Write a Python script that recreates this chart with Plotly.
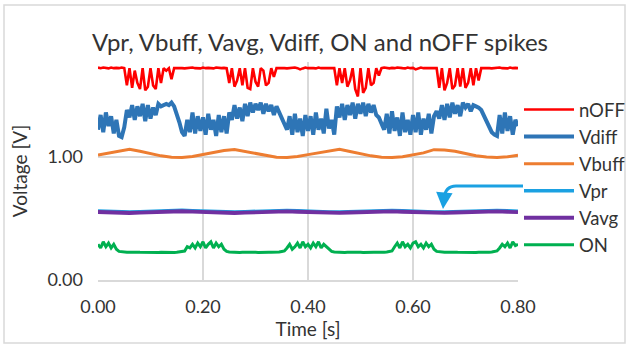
import plotly.graph_objects as go

# ---------------- data ----------------
DT_FAST = 0.005   # sampling step of the spiky traces (s)
DT_SLOW = 0.02    # sampling step of the smooth traces (s)

noff = [
    1.725, 1.72, 1.725, 1.72, 1.718, 1.725, 1.72, 1.722, 1.72, 1.725, 1.72,
    1.58, 1.72, 1.56, 1.70, 1.60, 1.55, 1.72, 1.54, 1.57, 1.72, 1.58, 1.55, 1.72, 1.60, 1.72, 1.70, 1.72, 1.63, 1.72,
    1.72, 1.725, 1.72, 1.718, 1.722, 1.72, 1.725, 1.72, 1.72, 1.718, 1.725, 1.72, 1.722, 1.72, 1.718, 1.725, 1.72, 1.72, 1.722, 1.72,
    1.60, 1.72, 1.57, 1.62, 1.72, 1.58, 1.72, 1.56, 1.55, 1.72, 1.61, 1.57, 1.72, 1.70, 1.58, 1.60, 1.72, 1.65, 1.72,
    1.72, 1.725, 1.72, 1.718, 1.722, 1.72, 1.725, 1.72, 1.71, 1.718, 1.725, 1.72, 1.722, 1.72, 1.718, 1.725, 1.72, 1.72, 1.722, 1.72, 1.725, 1.72,
    1.58, 1.72, 1.60, 1.72, 1.57, 1.62, 1.72, 1.55, 1.49, 1.72, 1.52, 1.56, 1.72, 1.58, 1.60, 1.72, 1.66,
    1.72, 1.725, 1.72, 1.718, 1.722, 1.72, 1.725, 1.72, 1.72, 1.718, 1.725, 1.72, 1.722, 1.71, 1.718, 1.725, 1.72, 1.72, 1.722, 1.72, 1.725, 1.72,
    1.56, 1.72, 1.54, 1.60, 1.72, 1.55, 1.58, 1.72, 1.57, 1.72, 1.56, 1.60, 1.72, 1.58, 1.72, 1.62, 1.72,
    1.72, 1.725, 1.72, 1.718, 1.722, 1.72, 1.725, 1.72, 1.72, 1.718, 1.725, 1.72, 1.722, 1.72,
]

vdiff = [
    1.22, 1.34, 1.20, 1.36, 1.25, 1.33, 1.19, 1.30, 1.17, 1.16,
    1.24, 1.38, 1.32, 1.42, 1.30, 1.41, 1.33, 1.43, 1.29, 1.42,
    1.31, 1.40, 1.34, 1.43, 1.41, 1.42, 1.43, 1.42, 1.44, 1.41,
    1.35, 1.28, 1.20, 1.17, 1.30, 1.20, 1.36, 1.19, 1.33, 1.21,
    1.32, 1.18, 1.35, 1.22, 1.30, 1.17, 1.34, 1.20, 1.33, 1.19,
    1.36, 1.30, 1.42, 1.31, 1.40, 1.29, 1.43, 1.33, 1.44, 1.36,
    1.43, 1.38, 1.44, 1.35, 1.43, 1.37, 1.42, 1.34, 1.41, 1.36,
    1.30, 1.25, 1.22, 1.33, 1.18, 1.35, 1.20, 1.31, 1.17, 1.34,
    1.21, 1.33, 1.18, 1.36, 1.22, 1.31, 1.19, 1.39, 1.23, 1.30,
    1.18, 1.41, 1.32, 1.43, 1.30, 1.42, 1.34, 1.44, 1.31, 1.43,
    1.35, 1.44, 1.33, 1.43, 1.36, 1.42, 1.34, 1.32, 1.27, 1.22,
    1.35, 1.19, 1.37, 1.21, 1.32, 1.17, 1.36, 1.20, 1.30, 1.18,
    1.34, 1.20, 1.36, 1.18, 1.31, 1.22, 1.35, 1.19, 1.33, 1.37,
    1.31, 1.42, 1.30, 1.43, 1.32, 1.44, 1.35, 1.42, 1.33, 1.44,
    1.40, 1.43, 1.37, 1.42, 1.41, 1.40, 1.38, 1.33, 1.28, 1.24,
    1.20, 1.18, 1.17, 1.34, 1.19, 1.36, 1.21, 1.33, 1.18, 1.30,
    1.25,
]

on = [
    0.29, 0.26, 0.31, 0.27, 0.30, 0.26, 0.29, 0.25,
    0.232, 0.228, 0.226, 0.225, 0.226, 0.224, 0.225, 0.226, 0.225, 0.224, 0.226, 0.225, 0.224, 0.226,
    0.225, 0.224, 0.226, 0.225, 0.224, 0.226, 0.225, 0.224, 0.226, 0.228, 0.232, 0.235,
    0.27, 0.26, 0.29, 0.26, 0.30, 0.27, 0.31, 0.26, 0.29, 0.31, 0.26, 0.30, 0.27, 0.29, 0.25,
    0.232, 0.228, 0.226, 0.225, 0.226, 0.224, 0.225, 0.226, 0.225, 0.224, 0.226, 0.225, 0.224,
    0.226, 0.225, 0.224, 0.226, 0.225, 0.224, 0.226, 0.228, 0.232, 0.236,
    0.26, 0.29, 0.25, 0.27, 0.30, 0.26, 0.31, 0.27, 0.29, 0.26, 0.30, 0.27, 0.31, 0.26, 0.29, 0.27, 0.25,
    0.232, 0.228, 0.226, 0.225, 0.226, 0.224, 0.225, 0.226, 0.225, 0.224, 0.226, 0.225, 0.224,
    0.226, 0.225, 0.224, 0.226, 0.225, 0.224, 0.226, 0.225, 0.228, 0.232, 0.236,
    0.27, 0.30, 0.26, 0.31, 0.27, 0.29, 0.26, 0.30, 0.31, 0.27, 0.29, 0.26, 0.30, 0.27, 0.29, 0.25,
    0.232, 0.228, 0.226, 0.225, 0.226, 0.224, 0.225, 0.226, 0.225, 0.224, 0.226, 0.225, 0.224,
    0.226, 0.225, 0.224, 0.226, 0.225, 0.224, 0.226, 0.225, 0.228, 0.232, 0.236,
    0.26, 0.29, 0.27, 0.30, 0.26, 0.31, 0.28, 0.29,
]

vbuff = [
    1.015, 1.030, 1.050, 1.062, 1.045, 1.025, 1.008, 0.997, 0.995, 1.002,
    1.020, 1.035, 1.052, 1.060, 1.043, 1.024, 1.007, 0.996, 0.995, 1.003,
    1.018, 1.033, 1.050, 1.061, 1.044, 1.025, 1.008, 0.997, 0.994, 1.000,
    1.016, 1.032, 1.058, 1.055, 1.045, 1.026, 1.009, 0.998, 0.995, 1.000,
    1.012,
]

vavg = [
    0.552, 0.548, 0.545, 0.544, 0.547, 0.551, 0.555, 0.558, 0.558, 0.555,
    0.551, 0.547, 0.544, 0.544, 0.547, 0.551, 0.555, 0.558, 0.557, 0.554,
    0.550, 0.546, 0.544, 0.545, 0.548, 0.552, 0.556, 0.558, 0.557, 0.554,
    0.550, 0.546, 0.544, 0.545, 0.548, 0.552, 0.556, 0.558, 0.557, 0.554,
    0.551,
]

vpr = [
    0.560, 0.556, 0.553, 0.552, 0.555, 0.559, 0.563, 0.566, 0.566, 0.563,
    0.559, 0.555, 0.552, 0.552, 0.555, 0.559, 0.563, 0.566, 0.565, 0.562,
    0.558, 0.554, 0.552, 0.553, 0.556, 0.560, 0.564, 0.566, 0.565, 0.562,
    0.558, 0.554, 0.552, 0.553, 0.556, 0.560, 0.564, 0.566, 0.565, 0.562,
    0.559,
]

x_ticks = [0.0, 0.2, 0.4, 0.6, 0.8]
x_tick_labels = ["0.00", "0.20", "0.40", "0.60", "0.80"]
y_ticks = [0.0, 1.0]
y_tick_labels = ["0.00", "1.00"]

t_fast = [round(i * DT_FAST, 4) for i in range(len(noff))]
t_slow = [round(i * DT_SLOW, 4) for i in range(len(vbuff))]

FONT = "Lato"
TXT = "#333333"

fig = go.Figure()
series = [
    ("nOFF", t_fast, noff, "#FF0000", 2.6),
    ("Vdiff", t_fast, vdiff, "#2E75B6", 4.0),
    ("Vbuff", t_slow, vbuff, "#ED7D31", 3.0),
    ("Vpr", t_slow, vpr, "#1BA1E2", 3.4),
    ("Vavg", t_slow, vavg, "#7030A0", 3.8),
    ("ON", t_fast, on, "#00B050", 3.0),
]
for name, xs, ys, col, w in series:
    fig.add_trace(go.Scatter(x=xs, y=ys, name=name, mode="lines",
                             line=dict(color=col, width=w)))

# plot area in pixels: x 98..518, y 62..280
L, R, T, B = 98, 518, 62, 280
W, H = R - L, B - T


def px(xp):
    return (xp - L) / W


def py(yp):
    return (B - yp) / H


# curved arrow from the Vpr legend entry to the hidden Vpr line
fig.add_shape(type="path", xref="paper", yref="paper",
              path=f"M {px(523)},{py(186)} L {px(456)},{py(186)} "
                   f"Q {px(445)},{py(186)} {px(444)},{py(199)}",
              line=dict(color="#1BA1E2", width=3))
fig.add_annotation(xref="paper", yref="paper", x=px(443), y=py(209),
                   ax=1, ay=-12, axref="pixel", ayref="pixel",
                   text="", showarrow=True, arrowhead=2, arrowsize=1.1,
                   arrowwidth=3, arrowcolor="#1BA1E2", standoff=0)

# outer chart border
fig.add_shape(type="rect", xref="paper", yref="paper",
              x0=px(4), x1=px(625), y0=py(343), y1=py(5),
              line=dict(color="#D9D9D9", width=1.5), layer="below")

fig.update_layout(
    width=628, height=346,
    margin=dict(l=L, r=628 - R, t=T, b=346 - B, autoexpand=False),
    paper_bgcolor="white", plot_bgcolor="white",
    font=dict(family=FONT, color=TXT, size=18),
    title=dict(text="Vpr, Vbuff, Vavg, Vdiff, ON and nOFF spikes",
               x=320 / 628, xanchor="center", xref="container",
               y=1 - 43 / 346, yanchor="middle", yref="container",
               font=dict(family=FONT, size=24, color=TXT)),
    xaxis=dict(range=[0, 0.8], tickvals=x_ticks, ticktext=x_tick_labels,
               showgrid=True, gridcolor="#D9D9D9", gridwidth=1.5,
               zeroline=False, showline=True, linecolor="#D9D9D9", linewidth=1.5,
               ticks="", ticklabelstandoff=10,
               tickfont=dict(size=18, color=TXT),
               title=dict(text="Time [s]", standoff=2,
                          font=dict(size=19, color=TXT))),
    yaxis=dict(range=[0, 1.77], tickvals=y_ticks, ticktext=y_tick_labels,
               showgrid=True, gridcolor="#D9D9D9", gridwidth=1.5,
               zeroline=False, showline=False,
               ticks="", ticklabelstandoff=14,
               tickfont=dict(size=18, color=TXT),
               title=dict(text="Voltage [V]", standoff=14,
                          font=dict(size=19, color=TXT))),
    legend=dict(x=px(519), xanchor="left", y=py(91), yanchor="top",
                font=dict(size=18.5, color=TXT), itemwidth=50,
                bgcolor="rgba(0,0,0,0)", tracegroupgap=0),
    showlegend=True,
)

fig.write_html("out.html")
